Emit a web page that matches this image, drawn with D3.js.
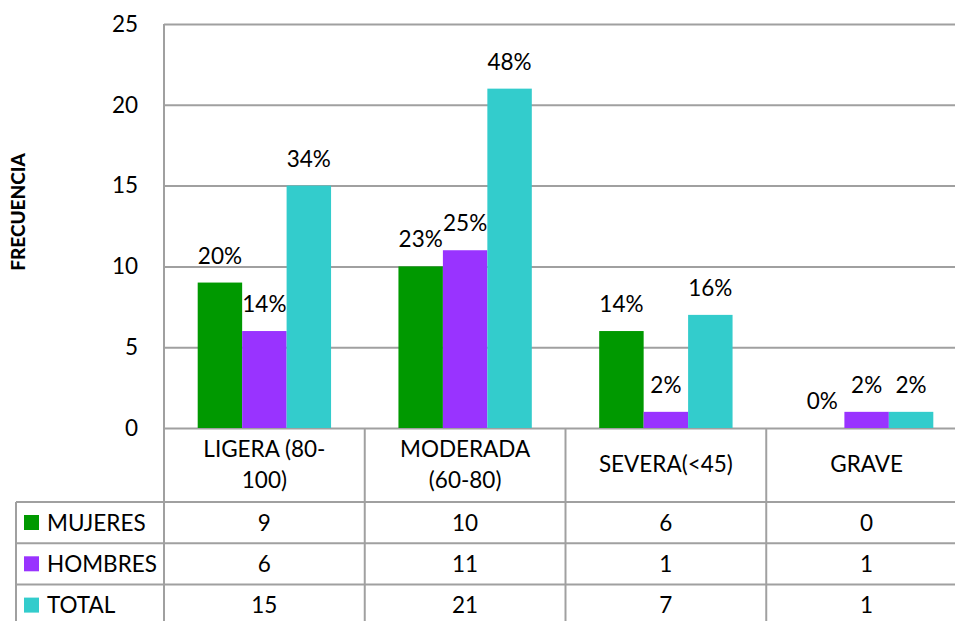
<!DOCTYPE html>
<html>
<head>
<meta charset="utf-8">
<script src="https://cdn.jsdelivr.net/npm/d3@7"></script>
<style>
  body { margin: 0; background: #fff; }
  text { font-family: Lato, "Open Sans", sans-serif; fill: #000; }
</style>
</head>
<body>
<svg id="mysvg" width="955" height="621"></svg>
<script>
// chart data
const categories = ["LIGERA (80-100)", "MODERADA (60-80)", "SEVERA(<45)", "GRAVE"];
const categoryLines = [["LIGERA (80-", "100)"], ["MODERADA", "(60-80)"], ["SEVERA(<45)"], ["GRAVE"]];
const series = ["MUJERES", "HOMBRES", "TOTAL"];
const mujeres = [9, 10, 6, 0];
const hombres = [6, 11, 1, 1];
const total = [15, 21, 7, 1];
const mujeresPct = ["20%", "23%", "14%", "0%"];
const hombresPct = ["14%", "25%", "2%", "2%"];
const totalPct = ["34%", "48%", "16%", "2%"];
const yTicks = [0, 5, 10, 15, 20, 25];
const colors = ["#009900", "#9933ff", "#33cccc"];

const values = [mujeres, hombres, total];
const pcts = [mujeresPct, hombresPct, totalPct];

// Layout
const plotLeft = 164, plotRight = 967, plotTop = 24, plotBottom = 428;
const headerBottom = 502, rowH = 41.3, tableLeft = 16;
const fontSize = 22.5;

const svg = d3.select("#mysvg");

const x0 = d3.scaleBand().domain(categories).range([plotLeft, plotRight]);
const x1 = d3.scaleBand().domain(series).range([0, x0.bandwidth()]).paddingOuter(0.758);
const y = d3.scaleLinear().domain([0, 25]).range([plotBottom, plotTop]);

// Gridlines + tick labels
const yAxis = svg.append("g")
  .attr("transform", `translate(${plotLeft},0)`)
  .call(d3.axisLeft(y).tickValues(yTicks).tickSize(-(plotRight - plotLeft)).tickPadding(26));
yAxis.select(".domain").remove();
yAxis.selectAll(".tick line").attr("stroke", "#a0a0a0").attr("stroke-width", 2);
yAxis.selectAll(".tick text")
  .style("font-family", "Lato, sans-serif")
  .style("font-size", fontSize + "px")
  .attr("fill", "#000");

// Bars data
const bars = [];
categories.forEach((c, i) => {
  series.forEach((s, j) => {
    bars.push({ cat: c, ser: s, j, value: values[j][i], pct: pcts[j][i] });
  });
});

svg.append("g")
  .selectAll("rect")
  .data(bars)
  .join("rect")
  .attr("x", (d) => x0(d.cat) + x1(d.ser))
  .attr("y", (d) => y(d.value))
  .attr("width", x1.bandwidth())
  .attr("height", (d) => y(0) - y(d.value))
  .attr("fill", (d) => colors[d.j]);

svg.append("g")
  .selectAll("text")
  .data(bars)
  .join("text")
  .attr("x", (d) => x0(d.cat) + x1(d.ser) + x1.bandwidth() / 2)
  .attr("y", (d) => y(d.value) - 19)
  .attr("text-anchor", "middle")
  .style("font-size", fontSize + "px")
  .text((d) => d.pct);

// Table lines
const lines = svg.append("g").attr("stroke", "#a0a0a0").attr("stroke-width", 2);
// vertical plot left / axis line
lines.append("line").attr("x1", plotLeft).attr("x2", plotLeft).attr("y1", plotTop).attr("y2", 621);
// category dividers
categories.forEach((c, i) => {
  if (i === 0) return;
  lines.append("line").attr("x1", x0(c)).attr("x2", x0(c)).attr("y1", plotBottom).attr("y2", 621);
});
lines.append("line").attr("x1", plotRight).attr("x2", plotRight).attr("y1", plotTop).attr("y2", 621);
// horizontal row lines
series.forEach((s, j) => {
  const yy = headerBottom + j * rowH;
  lines.append("line").attr("x1", tableLeft).attr("x2", plotRight).attr("y1", yy).attr("y2", yy);
});
lines.append("line").attr("x1", tableLeft).attr("x2", tableLeft).attr("y1", headerBottom).attr("y2", 621);

// Category header labels
categories.forEach((c, i) => {
  const ls = categoryLines[i];
  const cx = x0(c) + x0.bandwidth() / 2;
  const t = svg.append("text")
    .attr("x", cx)
    .attr("text-anchor", "middle")
    .style("font-size", fontSize + "px");
  if (ls.length === 1) {
    t.attr("y", 472).text(ls[0]);
  } else {
    ls.forEach((l, k) => {
      t.append("tspan").attr("x", cx).attr("y", 457 + k * 31).text(l);
    });
  }
});

// Table rows
series.forEach((s, j) => {
  const top = headerBottom + j * rowH;
  svg.append("rect")
    .attr("x", 24).attr("y", top + 13).attr("width", 15).attr("height", 15)
    .attr("fill", colors[j]);
  svg.append("text")
    .attr("x", 47).attr("y", top + 28.5)
    .style("font-size", fontSize + "px")
    .text(s);
  categories.forEach((c, i) => {
    svg.append("text")
      .attr("x", x0(c) + x0.bandwidth() / 2)
      .attr("y", top + 28.5)
      .attr("text-anchor", "middle")
      .style("font-size", fontSize + "px")
      .text(values[j][i]);
  });
});

// Y axis title
svg.append("text")
  .attr("transform", "translate(25,212) rotate(-90)")
  .attr("text-anchor", "middle")
  .style("font-size", "19px")
  .style("font-weight", "900")
  .text("FRECUENCIA");
</script>
</body>
</html>
